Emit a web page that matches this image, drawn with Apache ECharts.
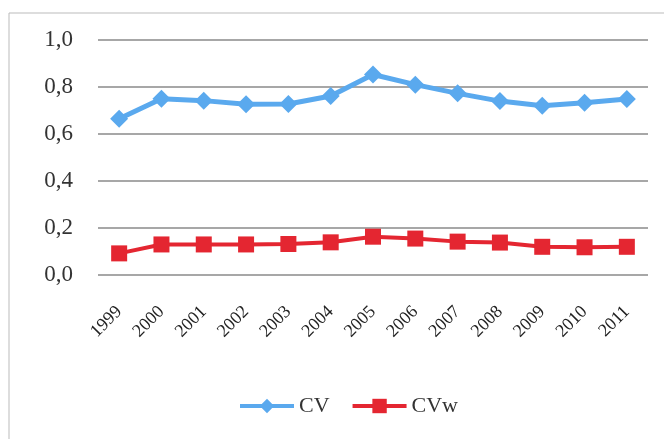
<!DOCTYPE html>
<html><head><meta charset="utf-8">
<script src="https://cdn.jsdelivr.net/npm/echarts@6/dist/echarts.min.js"></script>
<style>html,body{margin:0;padding:0;background:#fff}#c{width:664px;height:439px}</style>
</head><body><div id="c"></div>
<script>
const years = ['1999','2000','2001','2002','2003','2004','2005','2006','2007','2008','2009','2010','2011'];
const cv  = [0.665,0.750,0.742,0.727,0.728,0.762,0.853,0.810,0.773,0.740,0.720,0.733,0.749];
const cvw = [0.092,0.130,0.130,0.130,0.132,0.139,0.163,0.155,0.142,0.138,0.120,0.118,0.120];
const yTicks = [0,0.2,0.4,0.6,0.8,1.0];
const font = 'Liberation Serif';
const chart = echarts.init(document.getElementById('c'));
chart.setOption({
  animation:false,
  backgroundColor:'#fff',
  graphic:[{type:'rect',shape:{x:9,y:13,width:660,height:440},style:{fill:'none',stroke:'#bbb',lineWidth:1}}],
  grid:{left:98,right:16,top:40,bottom:164},
  legend:{top:395,left:238,padding:0,itemWidth:54,itemHeight:18,itemGap:21,
    lineStyle:{width:4},
    textStyle:{fontFamily:font,fontSize:22,color:'#333'},data:['CV','CVw']},
  xAxis:{type:'category',data:years,boundaryGap:true,
    axisLine:{show:false},axisTick:{show:false},
    axisLabel:{rotate:45,fontFamily:font,fontSize:18,color:'#222',margin:34,interval:0}},
  yAxis:{type:'value',min:0,max:1,interval:0.2,
    axisLine:{show:false},axisTick:{show:false},
    splitLine:{lineStyle:{color:'#8a8a8a',width:1.5}},
    axisLabel:{fontFamily:font,fontSize:23,color:'#333',margin:25,
      formatter:v=>v.toFixed(1).replace('.',',')}},
  series:[
    {name:'CV',type:'line',data:cv,symbol:'diamond',symbolSize:18,
      lineStyle:{color:'#5aa9ee',width:5},itemStyle:{color:'#5aa9ee'}},
    {name:'CVw',type:'line',data:cvw,symbol:'rect',symbolSize:16,
      lineStyle:{color:'#e42631',width:4},itemStyle:{color:'#e42631'}}
  ]
});
</script></body></html>
